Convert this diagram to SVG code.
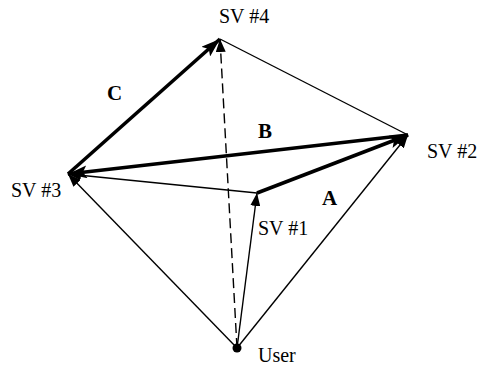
<svg xmlns="http://www.w3.org/2000/svg" width="480" height="368" viewBox="0 0 480 368">
<style>
.lbl{font-family:"Liberation Serif","Times New Roman",serif;font-size:20px;fill:#000}
.bold{font-weight:bold;font-size:21px}
.thin{stroke:#000;stroke-width:1.4;fill:none}
.thick{stroke:#000;stroke-width:3.6;fill:none}
.dash{stroke-dasharray:10 5}
</style>
<defs>
<marker id="at" markerUnits="userSpaceOnUse" markerWidth="13" markerHeight="10" refX="13" refY="5" orient="auto">
<path d="M0,0 L13,5 L0,10 z" fill="#000"/>
</marker>
<marker id="ak" markerUnits="userSpaceOnUse" markerWidth="19" markerHeight="13" refX="19" refY="6.5" orient="auto">
<path d="M0,0 L19,6.5 L0,13 L4,6.5 z" fill="#000"/>
</marker>
</defs>
<rect width="480" height="368" fill="#fff"/>
<g id="connectors">
<line class="thin" x1="220" y1="39" x2="408" y2="135"/>
<line class="thin" x1="237" y1="348" x2="68" y2="174" marker-end="url(#at)"/>
<line class="thin" x1="237" y1="348" x2="408" y2="135" marker-end="url(#at)"/>
<line class="thin" x1="237" y1="348" x2="257" y2="193" marker-end="url(#at)"/>
<line class="thin dash" x1="237" y1="348" x2="220" y2="39" marker-end="url(#at)"/>
<line class="thin" x1="257" y1="193" x2="68" y2="174" marker-end="url(#at)"/>
<line class="thick" x1="257" y1="193" x2="408" y2="135" marker-end="url(#ak)"/>
<line class="thick" x1="408" y1="135" x2="68" y2="174" marker-end="url(#ak)"/>
<line class="thick" x1="68" y1="174" x2="220" y2="39" marker-end="url(#ak)"/>
<text class="lbl bold" x="322" y="205">A</text>
<text class="lbl bold" x="258" y="138">B</text>
<text class="lbl bold" x="107" y="100">C</text>
</g>
<g id="sv4"><text class="lbl" x="219" y="23">SV #4</text></g>
<g id="sv2"><text class="lbl" x="427" y="158">SV #2</text></g>
<g id="sv3"><text class="lbl" x="11" y="197">SV #3</text></g>
<g id="sv1"><text class="lbl" x="258" y="235">SV #1</text></g>
<g id="user"><circle cx="237" cy="348" r="4.5" fill="#000"/><text class="lbl" x="258" y="362">User</text></g>
</svg>
